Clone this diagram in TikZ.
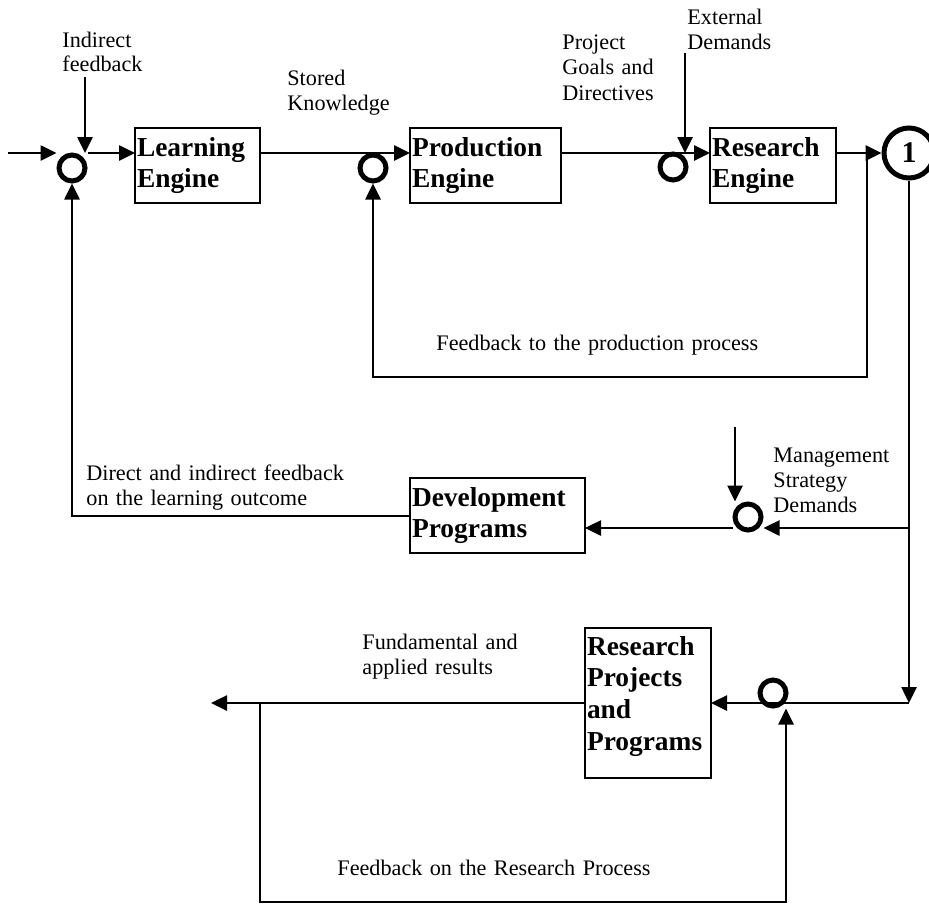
\documentclass[tikz,border=0pt]{standalone}
\usepackage{fontspec}
\setmainfont{Liberation Serif}
\usetikzlibrary{arrows.meta}
\begin{document}
\begin{tikzpicture}[x=0.5pt,y=-0.5pt,
   conn/.style={line width=1.3pt},
   arr/.style={conn,-{Triangle[length=8pt,width=7.5pt]}},
   engine/.style={draw,line width=1.2pt,anchor=north west,outer sep=0pt,inner xsep=1pt,inner ysep=0pt,align=left,font=\fontsize{13.7}{15.85}\selectfont\bfseries},
   sum/.style={draw,circle,line width=2.5pt,minimum size=13pt,inner sep=0pt},
   lbl/.style={anchor=base west,inner sep=0pt,align=left,text width=170pt,font=\fontsize{11.1}{12.5}\selectfont}]
   \useasboundingbox (0,0) rectangle (929,904);

   \node[engine,text width=60.5pt,minimum height=37.5pt] (learn) at (135,128) {Learning\\Engine};
   \node[engine,text width=73.5pt,minimum height=37.5pt] (prod) at (410,128) {Production\\Engine};
   \node[engine,text width=61pt,minimum height=37.5pt] (research) at (710,128) {Research\\Engine};
   \node[engine,text width=85.5pt,minimum height=37.5pt] (devprog) at (410,478) {Development\\Programs};
   \node[engine,text width=61pt,minimum height=75pt,text depth=57.5pt] (resproj) at (585,628) {Research\\Projects\\and\\Programs};

   \node[sum] (s1) at (72,168) {};
   \node[sum] (s2) at (373,168) {};
   \node[sum] (s3) at (673,167) {};
   \node[sum] (s4) at (748,517) {};
   \node[sum] (s5) at (773,693) {};
   \node[sum,minimum size=25pt,font=\fontsize{15}{18}\selectfont\bfseries] (one) at (909,153) {1};

   \coordinate (top) at (0,153);
   \coordinate (in) at (8,153);
   \coordinate (ind) at (85,77);
   \coordinate (ext) at (685,53);
   \coordinate (fp) at (867,153);
   \coordinate (fpb) at (867,377);
   \coordinate (mgmt) at (735,427);
   \coordinate (dline) at (0,528);
   \coordinate (lline) at (0,516);
   \coordinate (rline) at (0,703);
   \coordinate (out) at (211,703);
   \coordinate (fr) at (260,703);
   \coordinate (bot) at (0,902);

   \draw[arr] (in) -- (s1.west |- top);
   \draw[arr] (ind) -- (ind |- top);
   \draw[arr] (s1.east |- top) -- (learn.west |- top);
   \draw[arr] (learn.east |- top) -- (prod.west |- top);
   \draw[arr] (prod.east |- top) -- (research.west |- top);
   \draw[arr] (ext) -- (ext |- top);
   \draw[arr] (research.east |- top) -- (one.west);
   \draw[arr] (fp) -- (fpb) -| (s2.south);
   \draw[arr] (one.south) -- (one.south |- rline);
   \draw[arr] (one.south |- dline) -- (s4.east |- dline);
   \draw[arr] (s4.west |- dline) -- (devprog.east |- dline);
   \draw[arr] (mgmt) -- (mgmt |- s4.north);
   \draw[arr] (devprog.west |- lline) -| (s1.south);
   \draw[arr] (one.south |- rline) -- (resproj.east |- rline);
   \draw[arr] (resproj.west |- rline) -- (out);
   \draw[arr] (fr) -- (fr |- bot) -| ([xshift=6.5pt]s5.south);

   \node[lbl] (indl) at (62,47) {Indirect\\feedback};
   \node[lbl] (stored) at (287,85) {Stored\\Knowledge};
   \node[lbl] (goals) at (562,50) {Project\\Goals and\\Directives};
   \node[lbl] (extl) at (687,25) {External\\Demands};
   \node[lbl] (fbprod) at (436,350) {Feedback to the production process};
   \node[lbl] (mgmtl) at (773,462) {Management\\Strategy\\Demands};
   \node[lbl] (direct) at (86,480) {Direct and indirect feedback\\on the learning outcome};
   \node[lbl] (results) at (362,649) {Fundamental and\\applied results};
   \node[lbl] (fbres) at (337,875) {Feedback on the Research Process};
\end{tikzpicture}
\end{document}
